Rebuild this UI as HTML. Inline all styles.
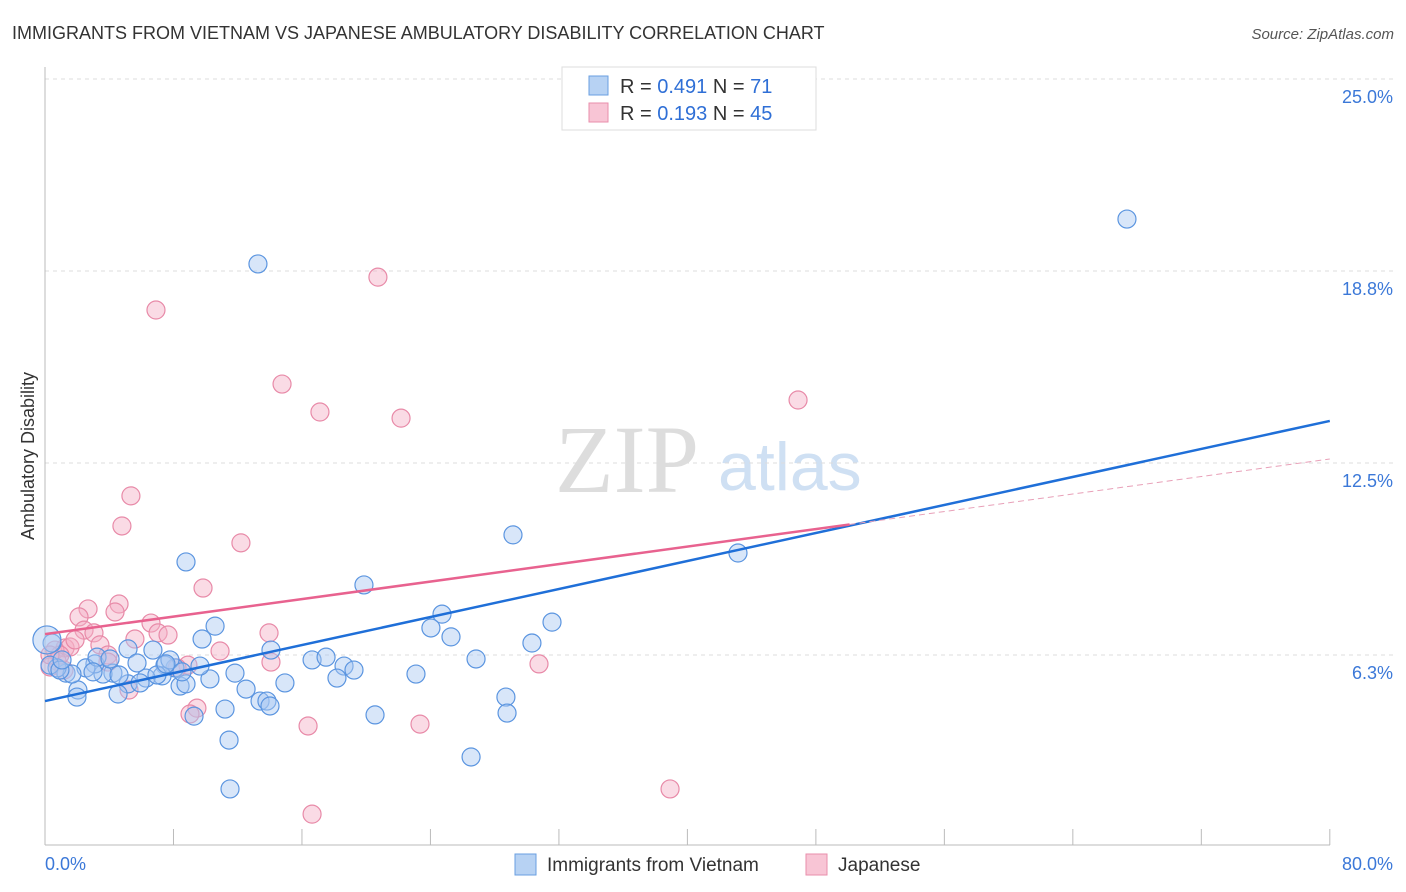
<!DOCTYPE html>
<html><head><meta charset="utf-8"><style>
body{margin:0;background:#fff;font-family:"Liberation Sans",sans-serif;}
#wrap{position:relative;width:1406px;height:892px;overflow:hidden;}
</style></head><body>
<div id="wrap">
<svg id="svg" width="1406" height="892">
<text x="12" y="39" font-size="18" fill="#333">IMMIGRANTS FROM VIETNAM VS JAPANESE AMBULATORY DISABILITY CORRELATION CHART</text>
<text x="1394" y="39" font-size="15" fill="#555" font-style="italic" text-anchor="end">Source: ZipAtlas.com</text>
<text x="34" y="456" font-size="18" fill="#333" text-anchor="middle" transform="rotate(-90 34 456)">Ambulatory Disability</text>
<text x="555" y="492" font-size="96" fill="#ddd" font-family="Liberation Serif,serif">ZIP</text>
<text x="718" y="490" font-size="68" fill="#cfe0f3">atlas</text>
<g id="grid"></g><g id="pts"></g><g id="lines"></g>
<g>
<rect x="562" y="67" width="254" height="63" fill="#fff" stroke="#ddd"/>
<rect x="589" y="76" width="19" height="19" fill="#b7d2f3" stroke="#6a9fe0"/>
<text x="620" y="93" font-size="20" fill="#333">R = <tspan fill="#2f6fd6">0.491</tspan>   N =  <tspan fill="#2f6fd6">71</tspan></text>
<rect x="589" y="103" width="19" height="19" fill="#f8c5d5" stroke="#e98eab"/>
<text x="620" y="120" font-size="20" fill="#333">R = <tspan fill="#2f6fd6">0.193</tspan>   N = <tspan fill="#2f6fd6">45</tspan></text>
</g>
<g>
<rect x="515" y="854" width="21" height="21" fill="#b7d2f3" stroke="#6a9fe0"/>
<text x="547" y="871" font-size="19" fill="#333">Immigrants from Vietnam</text>
<rect x="806" y="854" width="21" height="21" fill="#f8c5d5" stroke="#e98eab"/>
<text x="838" y="871" font-size="19" fill="#333">Japanese</text>
</g>
</svg>
</div>
<script>
const yTicks=[25,18.75,12.5,6.25];
const yTickLabels=["25.0%","18.8%","12.5%","6.3%"];
const xTickLabels=["0.0%","80.0%"];
const blueX=[13.26,67.37,8.78,29.14,43.15,19.86,24.72,24.03,31.57,25.28,30.32,10.59,9.78,6.72,5.17,14.07,16.63,17.5,18.62,19.24,18.18,26.84,23.1,14.94,12.52,11.83,10.27,9.65,8.09,8.41,7.47,7.78,7.29,6.29,6.97,5.73,5.17,4.55,4.23,3.61,3.11,2.55,2.05,1.99,1.31,1.68,0.75,0.31,0.44,0.93,1.06,3.24,4.05,4.61,2.99,9.28,11.21,13.39,13.82,14.01,20.55,28.7,28.77,11.46,26.53,11.52,8.78,5.92,8.53,7.53,0.12];
const blueY=[18.98,20.44,9.28,10.16,9.57,8.53,7.58,7.13,7.32,6.84,6.64,7.19,6.77,6.41,6.45,6.41,6.09,6.18,5.89,5.76,5.5,6.12,5.63,5.34,5.14,5.66,5.47,5.89,5.83,5.24,5.92,6.09,5.57,5.5,5.6,5.99,5.31,4.98,5.66,5.63,5.96,5.83,5.11,4.88,5.66,5.63,5.83,5.92,6.64,5.76,6.09,6.18,6.12,5.6,5.7,4.26,4.49,4.75,4.75,4.59,4.3,4.88,4.36,3.48,2.93,1.89,5.31,5.34,5.7,5.96,6.74];
const pinkX=[6.91,20.73,14.76,17.12,22.17,46.89,5.35,4.79,12.2,9.84,4.61,2.68,2.12,4.36,6.6,2.43,3.05,7.04,7.66,5.6,13.95,3.42,1.25,1.56,0.62,3.92,10.9,14.07,8.9,8.22,3.92,0.75,0.31,30.76,5.23,9.46,9.03,16.38,23.35,38.92,16.63,1.87,1.18,0.93,0.31];
const pinkY=[17.48,18.55,15.07,14.16,13.96,14.55,11.43,10.45,9.9,8.43,7.91,7.75,7.49,7.65,7.29,7.06,6.97,6.97,6.9,6.77,6.97,6.58,6.48,6.51,6.41,6.25,6.38,6.02,5.92,5.83,6.02,6.05,5.86,5.96,5.11,4.52,4.33,3.94,4,1.89,1.07,6.74,5.76,6.25,6.25];
const blueTrend=[4.75,13.87];
const pinkTrend=[6.93,12.63];
const pinkSolidEnd=50.1;
const X=v=>45+v*16.06, Y=v=>79+(25-v)*30.72;
const NS="http://www.w3.org/2000/svg";
function mk(t,a,p){const e=document.createElementNS(NS,t);for(const k in a)e.setAttribute(k,a[k]);p.appendChild(e);return e;}
const grid=document.getElementById('grid'),pts=document.getElementById('pts'),lines=document.getElementById('lines');
yTicks.forEach((v,i)=>{
 const l=mk('line',{x1:45,x2:1394,y1:Y(v),y2:Y(v),stroke:'#ddd','stroke-dasharray':'4,4'},grid);
 
 
 const t=mk('text',{x:1393,y:Y(v)+24,'font-size':18,fill:'#3b78d8','text-anchor':'end'},grid);
 t.textContent=yTickLabels[i];
 
 
});
const ax=mk('line',{x1:45,x2:1330,y1:845,y2:845,stroke:'#bbb'},grid);


const ay=mk('line',{x1:45,x2:45,y1:67,y2:845,stroke:'#bbb'},grid);


for(let i=0;i<=10;i++){
 const tk=mk('line',{x1:X(i*8),x2:X(i*8),y1:829,y2:845,stroke:'#bbb'},grid);
 
 
}
[[0,'start',45],[80,'end',1393]].forEach((d,i)=>{
 const t=mk('text',{x:d[2],y:870,'font-size':18,fill:'#3b78d8','text-anchor':d[1]},grid);
 t.textContent=xTickLabels[i];
 
 
});
function dots(xs,ys,fill,stroke,name){
 xs.forEach((x,i)=>{
  const c=mk('circle',{cx:X(x),cy:Y(ys[i]),r:(x<0.2?14:9),fill:fill,'fill-opacity':0.45,stroke:stroke,'stroke-width':1.2},pts);
  
  
 });
}
dots(pinkX,pinkY,'#f5b0c6','#e88aa8','point-japanese');
dots(blueX,blueY,'#a9c8f2','#5b95e0','point-vietnam');
const bl=mk('line',{x1:X(0),y1:Y(blueTrend[0]),x2:X(80),y2:Y(blueTrend[1]),stroke:'#1f6fd8','stroke-width':2.5},lines);


const py=x=>pinkTrend[0]+(pinkTrend[1]-pinkTrend[0])*x/80;
const pl=mk('line',{x1:X(0),y1:Y(py(0)),x2:X(pinkSolidEnd),y2:Y(py(pinkSolidEnd)),stroke:'#e8628f','stroke-width':2.5},lines);


const pd=mk('line',{x1:X(pinkSolidEnd),y1:Y(py(pinkSolidEnd)),x2:X(80),y2:Y(py(80)),stroke:'#e8a0b8','stroke-width':1,'stroke-dasharray':'6,4'},lines);


</script>
</body></html>
